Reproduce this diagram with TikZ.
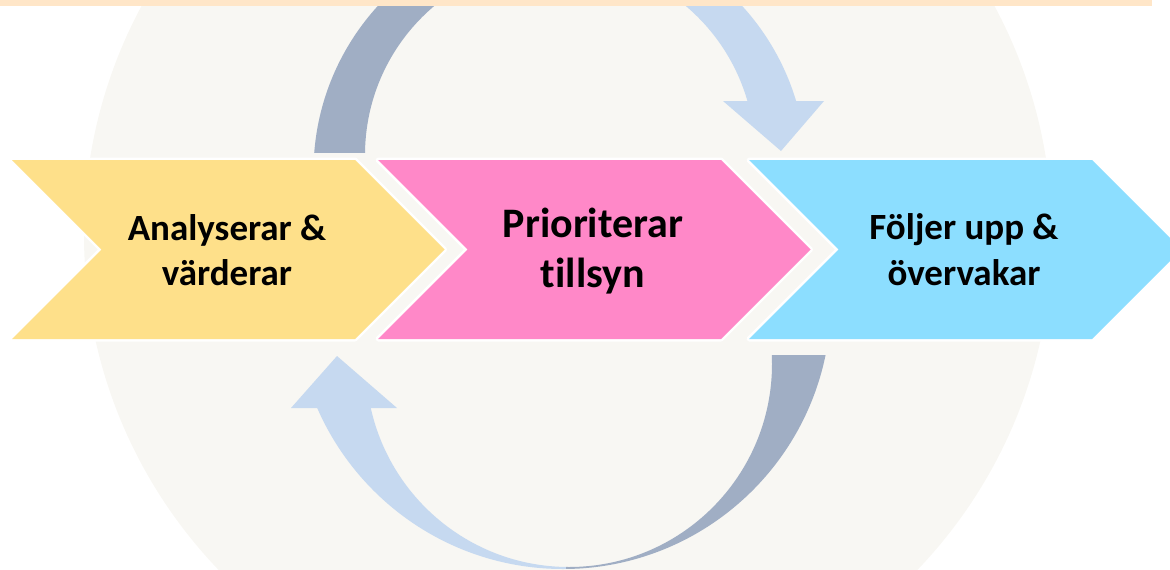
\documentclass[tikz,border=0pt]{standalone}
\usepackage{fontspec}
\setmainfont{Carlito}[Ligatures={NoCommon}]
\definecolor{band}{RGB}{255,230,200}
\definecolor{disc}{RGB}{248,247,243}
\definecolor{ychev}{RGB}{254,224,138}
\definecolor{pchev}{RGB}{255,136,200}
\definecolor{bchev}{RGB}{140,222,255}
\definecolor{darkarc}{RGB}{160,174,196}
\definecolor{lightarc}{RGB}{198,217,240}
\begin{document}
\begin{tikzpicture}[x=1pt,y=-1pt,
  chev/.style={fill=#1, preaction={draw=white, line width=5pt, line join=round}},
  lbl/.style={anchor=base, font=\bfseries\fontsize{37}{45}\selectfont, inner sep=0pt},
  biglbl/.style={anchor=base, font=\bfseries\fontsize{42}{50}\selectfont, inner sep=0pt},
  ring/.style={fill=#1, even odd rule}]
\useasboundingbox (0,0) rectangle (1170,570);
\clip (0,0) rectangle (1170,570);
% background disc
\fill[disc] (568,235) circle[radius=484pt];
% top pair of arcs
\begin{scope}
  \clip (0,0) rectangle (560,152);
  \path[ring=darkarc] (560,172) circle[radius=246.5pt] (560,155) circle[radius=195pt];
\end{scope}
\begin{scope}
  \clip (560,0) rectangle (1170,101);
  \path[ring=lightarc] (560,172) circle[radius=246.5pt] (560,155) circle[radius=195pt];
\end{scope}
\fill[lightarc] (723,101) -- (824,101) -- (781,151) -- cycle;
% bottom pair of arcs
\begin{scope}
  \clip (0,408) rectangle (566,570);
  \path[ring=lightarc] (563,301) circle[radius=268pt] (569,364) circle[radius=203pt];
\end{scope}
\fill[lightarc] (291,408) -- (397,408) -- (337,356) -- cycle;
\begin{scope}
  \clip (566,355) rectangle (1170,570);
  \path[ring=darkarc] (563,301) circle[radius=268pt] (569,364) circle[radius=203pt];
\end{scope}
% chevrons
\path[chev=ychev] (12,160) -- (355,160) -- (444.5,249.5) -- (355,339) -- (12,339) -- (101.5,249.5) -- cycle;
\path[chev=pchev] (378,160) -- (721,160) -- (810.5,249.5) -- (721,339) -- (378,339) -- (467.5,249.5) -- cycle;
\path[chev=bchev] (749,160) -- (1092,160) -- (1181.5,249.5) -- (1092,339) -- (749,339) -- (838.5,249.5) -- cycle;
% top band
\fill[band] (0,0) rectangle (1152,6);
% labels
\node[lbl] (a1) at (227,240) {Analyserar \&};
\node[lbl] (a2) at (227,285) {värderar};
\node[biglbl] (p1) at (593,237) {Prioriterar};
\node[biglbl] (p2) at (593,287) {tillsyn};
\node[lbl] (f1) at (964,239) {Följer upp \&};
\node[lbl] (f2) at (964,285) {övervakar};
\end{tikzpicture}
\end{document}
